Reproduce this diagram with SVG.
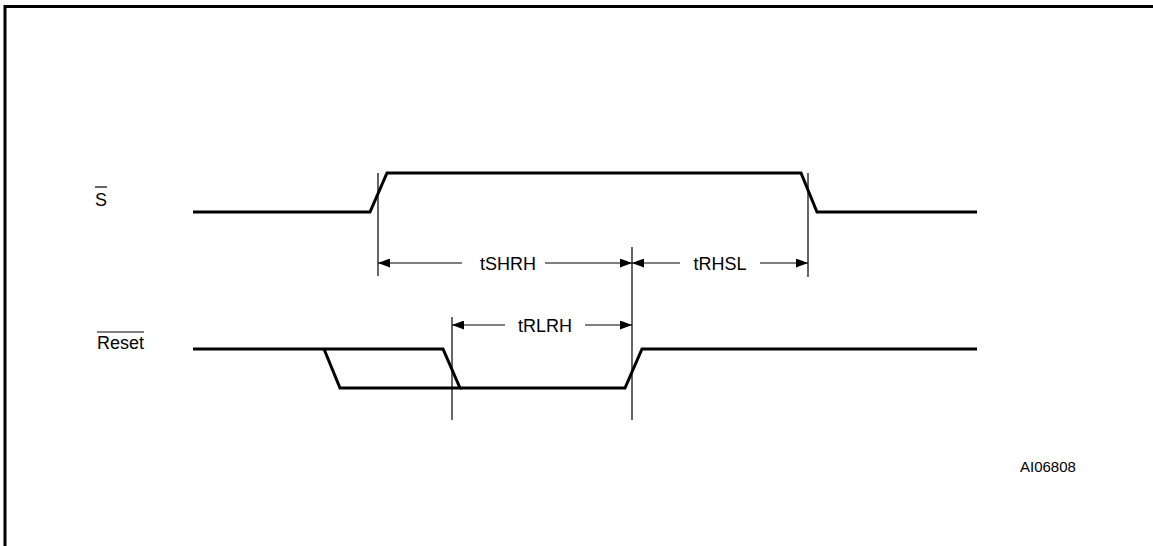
<svg xmlns="http://www.w3.org/2000/svg" width="1153" height="546" viewBox="0 0 1153 546">
<style>
.sig{fill:none;stroke:#000;stroke-width:3;stroke-linejoin:miter}
.ref{fill:none;stroke:#000;stroke-width:1.2}
.dim{fill:none;stroke:#000;stroke-width:1.2}
.lbl{font-family:"Liberation Sans",Arial,sans-serif;font-size:18px;fill:#000}
.tag{font-family:"Liberation Sans",Arial,sans-serif;font-size:15px;fill:#000}
.frame{fill:none;stroke:#000;stroke-width:3}
</style>
<defs>
<marker id="ah" viewBox="0 0 12 9" refX="12" refY="4.5" markerWidth="12" markerHeight="9" markerUnits="userSpaceOnUse" orient="auto-start-reverse">
<path d="M0,0 L12,4.5 L0,9 Z" fill="#000"/>
</marker>
</defs>
<rect width="1153" height="546" fill="#fff"/>
<path class="frame" d="M5,546 V6.5 H1153"/>
<g id="label-S">
<text class="lbl" x="95" y="206">S</text>
<line x1="95" y1="187" x2="107" y2="187" stroke="#000" stroke-width="1.2"/>
</g>
<g id="label-Reset">
<text class="lbl" x="97" y="349">Reset</text>
<line x1="97" y1="332" x2="144" y2="332" stroke="#000" stroke-width="1.2"/>
</g>
<g id="signal-S">
<path class="sig" d="M193,212 H370 L387,173 H801 L817,212 H977"/>
</g>
<g id="signal-Reset">
<path class="sig" d="M193,349 H443 L460,388 H340 L324,349"/>
<path class="sig" d="M460,388 H625 L642,349 H977"/>
</g>
<g id="connectors">
<line class="ref" x1="378" y1="173" x2="378" y2="276"/>
<line class="ref" x1="808" y1="173" x2="808" y2="277"/>
<line class="ref" x1="632" y1="247" x2="632" y2="420"/>
<line class="ref" x1="452" y1="317" x2="452" y2="420"/>
<line class="dim" x1="462" y1="263" x2="378" y2="263" marker-end="url(#ah)"/>
<line class="dim" x1="545" y1="263" x2="632" y2="263" marker-end="url(#ah)"/>
<line class="dim" x1="680" y1="263" x2="632" y2="263" marker-end="url(#ah)"/>
<line class="dim" x1="760" y1="263" x2="808" y2="263" marker-end="url(#ah)"/>
<line class="dim" x1="505" y1="325" x2="452" y2="325" marker-end="url(#ah)"/>
<line class="dim" x1="585" y1="325" x2="632" y2="325" marker-end="url(#ah)"/>
</g>
<g id="timing-labels">
<text class="lbl" x="508" y="269.5" text-anchor="middle">tSHRH</text>
<text class="lbl" x="720" y="269.5" text-anchor="middle">tRHSL</text>
<text class="lbl" x="545" y="331.5" text-anchor="middle">tRLRH</text>
</g>
<text class="tag" x="1020" y="472">AI06808</text>
</svg>
